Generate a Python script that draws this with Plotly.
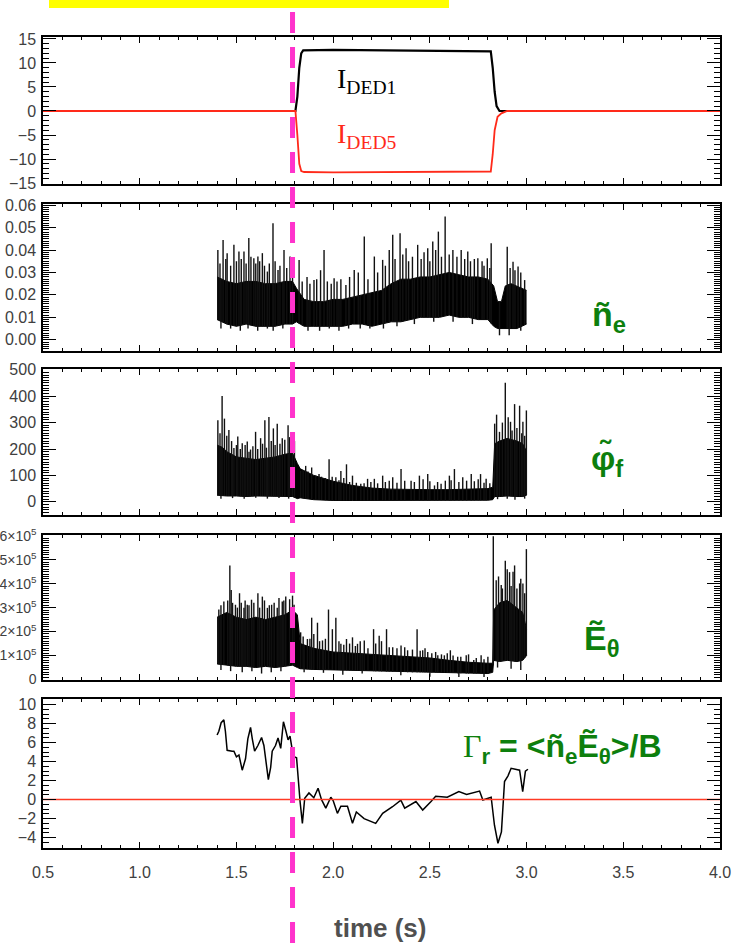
import numpy as np
import plotly.graph_objects as go

# ---------------- data ----------------
X_RANGE = [0.5, 4.0]
X_TICKS = [0.5, 1.0, 1.5, 2.0, 2.5, 3.0, 3.5, 4.0]
DED_ON_TIME = 1.79

# Panel 1: DED coil currents (kA)
ID1_T = [0.5, 1.805, 1.815, 1.825, 1.835, 1.845, 2.0, 2.3, 2.6, 2.815, 2.825, 2.835, 2.845, 2.86, 4.0]
ID1_V = [0, 0, 3, 9, 12, 12.6, 12.7, 12.6, 12.5, 12.4, 9, 4, 1, 0, 0]
ID5_T = [0.5, 1.805, 1.815, 1.825, 1.835, 1.85, 2.0, 2.3, 2.6, 2.815, 2.825, 2.835, 2.85, 2.87, 2.9, 4.0]
ID5_V = [0, 0, -5, -11, -12.5, -12.7, -12.8, -12.7, -12.7, -12.6, -9, -4, -1.2, -0.5, 0, 0]

# Panel 2: density fluctuation  (band of dense signal + spikes + dips)
NE_T = [1.40, 1.45, 1.50, 1.55, 1.60, 1.65, 1.70, 1.75, 1.79, 1.81, 1.85, 1.90, 1.95, 2.00, 2.05, 2.10,
        2.15, 2.20, 2.25, 2.30, 2.35, 2.40, 2.45, 2.50, 2.55, 2.60, 2.65, 2.70, 2.75, 2.80, 2.83, 2.85,
        2.87, 2.89, 2.92, 2.95, 3.00]
NE_LO = [0.009, 0.007, 0.006, 0.007, 0.006, 0.006, 0.006, 0.007, 0.007, 0.008, 0.006, 0.006, 0.006, 0.006,
         0.006, 0.007, 0.007, 0.006, 0.007, 0.008, 0.008, 0.009, 0.010, 0.010, 0.010, 0.011, 0.010, 0.010,
         0.009, 0.009, 0.006, 0.005, 0.005, 0.005, 0.005, 0.005, 0.007]
NE_HI = [0.028, 0.026, 0.025, 0.026, 0.026, 0.025, 0.025, 0.026, 0.026, 0.023, 0.018, 0.017, 0.017, 0.018,
         0.018, 0.019, 0.020, 0.021, 0.022, 0.025, 0.027, 0.027, 0.028, 0.028, 0.029, 0.030, 0.029, 0.028,
         0.028, 0.027, 0.024, 0.017, 0.017, 0.024, 0.025, 0.024, 0.022]
NE_SPK_T = [1.404, 1.431, 1.452, 1.487, 1.513, 1.539, 1.564, 1.590, 1.611, 1.634, 1.660, 1.689, 1.715, 1.746,
            1.777, 1.824, 1.901, 1.953, 2.005, 2.066, 2.109, 2.161, 2.213, 2.256, 2.308, 2.346, 2.377, 2.437,
            2.489, 2.515, 2.544, 2.579, 2.619, 2.662, 2.696, 2.748, 2.797, 2.817, 2.900, 2.930, 2.956, 2.990,
            1.415, 1.445, 1.470, 1.500, 1.525, 1.550, 1.575, 1.600, 1.620, 1.645, 1.670, 1.700, 1.725, 1.760,
            1.790, 1.840, 1.865, 1.880, 1.915, 1.935, 1.970, 1.990, 2.020, 2.040, 2.085, 2.130, 2.180, 2.230,
            2.270, 2.290, 2.320, 2.360, 2.390, 2.410, 2.455, 2.470, 2.500, 2.530, 2.560, 2.600, 2.640, 2.680,
            2.710, 2.730, 2.770, 2.780, 2.810, 2.915, 2.940, 2.970]
NE_SPK_V = [0.0400, 0.0445, 0.0386, 0.0423, 0.0393, 0.0393, 0.0453, 0.0363, 0.0371, 0.0386, 0.0304, 0.0519,
            0.0311, 0.0400, 0.0371, 0.0356, 0.0266, 0.0400, 0.0274, 0.0244, 0.0311, 0.0460, 0.0371, 0.0356,
            0.0468, 0.0475, 0.0408, 0.0423, 0.0408, 0.0438, 0.0482, 0.0549, 0.0400, 0.0400, 0.0393, 0.0363,
            0.0363, 0.0430, 0.0415, 0.0348, 0.0326, 0.0266,
            0.034, 0.036, 0.033, 0.035, 0.036, 0.034, 0.037, 0.034, 0.035, 0.033, 0.034, 0.035, 0.033, 0.032,
            0.033, 0.026, 0.028, 0.025, 0.027, 0.031, 0.026, 0.025, 0.026, 0.027, 0.028, 0.030, 0.027, 0.030,
            0.033, 0.040, 0.036, 0.038, 0.035, 0.037, 0.036, 0.039, 0.035, 0.040, 0.037, 0.038, 0.037, 0.036,
            0.035, 0.036, 0.035, 0.033, 0.032, 0.032, 0.031, 0.030]
NE_DIP_T = [1.42, 1.47, 1.52, 1.56, 1.61, 1.66, 1.69, 1.74, 1.87, 1.93, 1.98, 2.03, 2.08, 2.14, 2.19, 2.26,
            2.33, 2.42, 2.52, 2.62, 2.72, 2.86, 2.91, 2.97]
NE_DIP_V = [0.005, 0.005, 0.004, 0.005, 0.004, 0.005, 0.004, 0.005, 0.004, 0.004, 0.005, 0.004, 0.005,
            0.005, 0.005, 0.005, 0.006, 0.007, 0.008, 0.008, 0.007, 0.002, 0.002, 0.004]

# Panel 3: floating potential fluctuation
PH_T = [1.40, 1.43, 1.45, 1.50, 1.55, 1.60, 1.65, 1.70, 1.75, 1.79, 1.815, 1.83, 1.90, 2.00, 2.10, 2.20,
        2.30, 2.40, 2.50, 2.60, 2.70, 2.80, 2.825, 2.835, 2.86, 2.90, 2.95, 2.98, 3.00]
PH_LO = [25, 22, 22, 22, 20, 22, 22, 20, 22, 20, 12, 15, 8, 5, 5, 5, 5, 5, 5, 5, 5, 6, 8, 20, 20, 22, 20, 20, 25]
PH_HI = [215, 205, 190, 170, 165, 160, 165, 170, 180, 185, 145, 125, 100, 78, 62, 52, 48, 46, 46, 46, 48,
         50, 55, 220, 230, 240, 230, 220, 190]
PH_SPK_T = [1.404, 1.426, 1.438, 1.461, 1.487, 1.507, 1.530, 1.556, 1.573, 1.599, 1.625, 1.647, 1.668, 1.691,
            1.711, 1.737, 1.767, 1.789, 1.832, 1.858, 1.889, 1.927, 1.979, 2.014, 2.040, 2.069, 2.100, 2.143,
            2.178, 2.213, 2.256, 2.308, 2.351, 2.403, 2.446, 2.489, 2.524, 2.558, 2.601, 2.627, 2.670, 2.714,
            2.762, 2.791, 2.835, 2.860, 2.890, 2.917, 2.938, 2.964, 2.981, 2.999,
            1.415, 1.450, 1.475, 1.500, 1.520, 1.545, 1.565, 1.585, 1.610, 1.635, 1.655, 1.680, 1.700, 1.725,
            1.750, 1.775, 1.800, 1.845, 1.870, 1.910, 1.940, 1.960, 1.995, 2.030, 2.055, 2.085, 2.120, 2.160,
            2.195, 2.230, 2.270, 2.290, 2.330, 2.370, 2.420, 2.465, 2.500, 2.540, 2.580, 2.610, 2.650, 2.690,
            2.730, 2.750, 2.780, 2.810, 2.845, 2.875, 2.905, 2.925, 2.950, 2.975, 2.990]
PH_SPK_V = [309, 401, 315, 272, 204, 247, 222, 228, 198, 265, 241, 309, 321, 278, 296, 241, 290, 259, 117,
            136, 130, 105, 161, 93, 117, 142, 99, 68, 87, 87, 99, 93, 124, 80, 99, 105, 62, 68, 99, 124, 93,
            105, 105, 87, 296, 265, 451, 303, 370, 364, 303, 346,
            260, 250, 230, 215, 200, 215, 190, 210, 200, 220, 205, 230, 215, 220, 235, 245, 230, 120, 115,
            100, 95, 90, 95, 82, 90, 75, 72, 70, 75, 70, 75, 80, 72, 80, 75, 85, 78, 75, 80, 82, 75, 80, 78,
            85, 72, 70, 330, 300, 320, 270, 280, 260, 250]
PH_DIP_T = [1.42, 1.48, 1.54, 1.60, 1.66, 1.72, 1.77, 2.85, 2.90, 2.94, 2.99]
PH_DIP_V = [12, 14, 12, 15, 12, 14, 12, 10, 12, 8, 12]

# Panel 4: poloidal electric field fluctuation (units of 1e5)
E_SCALE = 1e5
EF_T = [1.40, 1.45, 1.50, 1.55, 1.60, 1.65, 1.70, 1.75, 1.79, 1.815, 1.83, 1.90, 2.00, 2.10, 2.20, 2.30,
        2.40, 2.50, 2.60, 2.70, 2.80, 2.825, 2.83, 2.86, 2.90, 2.95, 2.98, 3.00]
EF_LO = [0.65, 0.6, 0.55, 0.55, 0.5, 0.55, 0.5, 0.55, 0.6, 0.5, 0.45, 0.42, 0.4, 0.38, 0.35, 0.33, 0.3, 0.3,
         0.28, 0.25, 0.25, 0.3, 0.8, 0.75, 0.8, 0.75, 0.8, 1.0]
EF_HI = [2.6, 2.8, 2.6, 2.5, 2.6, 2.5, 2.6, 2.7, 2.9, 2.7, 1.5, 1.3, 1.15, 1.1, 1.05, 1.0, 0.95, 0.9, 0.8,
         0.72, 0.68, 0.68, 2.9, 3.2, 3.3, 3.0, 2.8, 2.1]
EF_SPK_T = [1.409, 1.435, 1.466, 1.473, 1.495, 1.516, 1.539, 1.556, 1.578, 1.611, 1.634, 1.660, 1.682, 1.711,
            1.737, 1.755, 1.798, 1.832, 1.867, 1.889, 1.919, 1.945, 1.976, 1.996, 2.014, 2.040, 2.069, 2.100,
            2.126, 2.161, 2.209, 2.238, 2.276, 2.308, 2.351, 2.385, 2.434, 2.463, 2.489, 2.541, 2.575, 2.606,
            2.644, 2.688, 2.727, 2.765, 2.828, 2.843, 2.869, 2.890, 2.912, 2.938, 2.964, 2.981, 2.999,
            1.420, 1.455, 1.480, 1.505, 1.525, 1.545, 1.565, 1.590, 1.620, 1.645, 1.670, 1.695, 1.720, 1.745,
            1.775, 1.790, 1.845, 1.880, 1.900, 1.930, 1.960, 2.030, 2.055, 2.085, 2.115, 2.140, 2.180, 2.220,
            2.250, 2.290, 2.330, 2.370, 2.410, 2.450, 2.475, 2.510, 2.530, 2.560, 2.590, 2.620, 2.660, 2.700,
            2.740, 2.780, 2.800, 2.855, 2.875, 2.900, 2.920, 2.930, 2.950, 2.970, 2.990]
EF_SPK_V = [2.92, 3.26, 4.76, 3.73, 3.12, 3.60, 2.99, 3.12, 3.33, 3.60, 3.46, 2.99, 3.12, 2.99, 3.26, 3.46,
            3.12, 1.97, 1.69, 2.58, 2.37, 1.63, 2.92, 2.10, 2.58, 1.49, 1.69, 1.76, 1.49, 1.63, 2.10, 1.83,
            2.10, 1.35, 1.42, 1.22, 2.10, 1.22, 1.15, 1.01, 1.01, 1.22, 0.95, 1.01, 0.81, 1.01, 5.98, 4.14,
            3.94, 4.96, 4.48, 4.76, 4.01, 4.01, 5.44,
            3.1, 3.3, 3.2, 3.0, 3.2, 3.3, 3.1, 3.2, 3.0, 3.3, 3.1, 3.2, 3.4, 3.3, 3.35, 3.5, 1.8, 1.7, 1.9,
            1.6, 1.7, 1.6, 1.45, 1.5, 1.4, 1.6, 1.3, 1.5, 1.6, 1.35, 1.3, 1.35, 1.25, 1.2, 1.3, 1.1, 1.15,
            1.05, 1.1, 1.0, 0.95, 1.05, 0.9, 0.85, 0.95, 4.3, 3.8, 4.6, 3.9, 4.5, 3.8, 4.2, 3.6]
EF_DIP_T = [1.42, 1.47, 1.53, 1.58, 1.63, 1.68, 1.73, 1.85, 1.95, 2.05, 2.15, 2.35, 2.50, 2.65, 2.78,
            2.85, 2.92, 2.97]
EF_DIP_V = [0.4, 0.35, 0.3, 0.35, 0.25, 0.3, 0.35, 0.3, 0.28, 0.2, 0.25, 0.18, 0.12, 0.1, 0.1, 0.5, 0.45, 0.4]

# Panel 5: radial particle flux
GR_T = [1.400, 1.409, 1.421, 1.435, 1.443, 1.452, 1.478, 1.487, 1.500, 1.513, 1.530, 1.547, 1.559, 1.573,
        1.582, 1.594, 1.611, 1.630, 1.642, 1.654, 1.665, 1.677, 1.685, 1.702, 1.715, 1.729, 1.743, 1.756,
        1.767, 1.777, 1.794, 1.811, 1.820, 1.829, 1.841, 1.853, 1.875, 1.900, 1.922, 1.940, 1.962, 1.988,
        2.000, 2.022, 2.040, 2.074, 2.100, 2.120, 2.160, 2.220, 2.256, 2.307, 2.350, 2.370, 2.428, 2.463,
        2.506, 2.530, 2.590, 2.650, 2.690, 2.757, 2.774, 2.817, 2.834, 2.852, 2.870, 2.886, 2.904, 2.920,
        2.964, 2.980, 2.994, 3.007]
GR_V = [6.8, 7.2, 8.1, 8.4, 7.2, 5.2, 5.1, 5.1, 4.5, 4.7, 3.1, 4.3, 6.4, 7.6,
        6.4, 5.1, 5.7, 6.55, 5.7, 3.6, 2.1, 3.4, 5.1, 5.7, 6.5, 5.4, 8.2, 7.2,
        6.3, 6.7, 4.55, 4.4, 1.7, -0.2, -2.5, 0.15, 0.7, 0.2, 1.2, 0.0, -0.9, 0.25,
        -0.1, -1.45, -0.7, -0.7, -2.5, -1.3, -2.0, -2.5, -1.45, -0.75, -0.05, -0.9, -0.2, -1.1,
        -0.2, 0.35, 0.25, 0.85, 0.55, 0.9, -0.05, 0.25, -2.7, -4.6, -3.4, 1.9, 2.5, 3.3,
        3.1, 0.85, 3.0, 3.2]
ZERO_T = [0.5, 4.0]
ZERO_V = [0, 0]

# ---------------- layout geometry ----------------
W, H = 734, 943
ML, MR, MT, MB = 43, 14, 37, 95
PW, PH = W - ML - MR, H - MT - MB

def py(pix):  # page pixel row -> paper y
    return (H - MB - pix) / PH

def px(pix):  # page pixel column -> paper x
    return (pix - ML) / PW

DOMAINS = [[py(184), 1.0], [py(351), py(204)], [py(515), py(369)], [py(680), py(535)], [0.0, py(699)]]

fig = go.Figure()

def ax_ids(idx):
    return ("x" if idx == 1 else f"x{idx}"), ("y" if idx == 1 else f"y{idx}")

def add_line(t, v, idx, color, width, shape="linear"):
    xa, ya = ax_ids(idx)
    fig.add_trace(go.Scatter(x=t, y=v, mode="lines", line=dict(color=color, width=width, shape=shape),
                             xaxis=xa, yaxis=ya, showlegend=False, hoverinfo="skip"))

def add_noisy(t, lo, hi, st, sv, dt, dv, idx, scale=1.0):
    xa, ya = ax_ids(idx)
    lo_s = [v * scale for v in lo]
    hi_s = [v * scale for v in hi]
    fig.add_trace(go.Scatter(x=t, y=lo_s, mode="lines", line=dict(color="black", width=1),
                             xaxis=xa, yaxis=ya, showlegend=False, hoverinfo="skip"))
    fig.add_trace(go.Scatter(x=t, y=hi_s, mode="lines", line=dict(color="black", width=1),
                             fill="tonexty", fillcolor="black",
                             xaxis=xa, yaxis=ya, showlegend=False, hoverinfo="skip"))
    xs, ys = [], []
    for tt, b, v in zip(st, np.interp(st, t, lo_s), sv):
        xs += [tt, tt, None]
        ys += [b, v * scale, None]
    for tt, b, v in zip(dt, np.interp(dt, t, hi_s), dv):
        xs += [tt, tt, None]
        ys += [b, v * scale, None]
    fig.add_trace(go.Scatter(x=xs, y=ys, mode="lines", line=dict(color="#111111", width=1.4),
                             xaxis=xa, yaxis=ya, showlegend=False, hoverinfo="skip", connectgaps=False))

add_line(ID1_T, ID1_V, 1, "black", 2.2)
add_line(ID5_T, ID5_V, 1, "#ff2a1a", 1.8)
add_noisy(NE_T, NE_LO, NE_HI, NE_SPK_T, NE_SPK_V, NE_DIP_T, NE_DIP_V, 2)
add_noisy(PH_T, PH_LO, PH_HI, PH_SPK_T, PH_SPK_V, PH_DIP_T, PH_DIP_V, 3)
add_noisy(EF_T, EF_LO, EF_HI, EF_SPK_T, EF_SPK_V, EF_DIP_T, EF_DIP_V, 4, E_SCALE)
add_line(GR_T, GR_V, 5, "black", 1.5)
add_line(ZERO_T, ZERO_V, 5, "#ff3a24", 1.5)

TICKFONT = dict(family="Liberation Sans", size=16, color="#404040")

def grid_vals(lo, hi, step):
    n = int(round((hi - lo) / step))
    return [round(lo + k * step, 10) for k in range(n + 1)]

Y_CFG = [
    dict(range=[-15.2, 15.4], tickvals=[-15, -10, -5, 0, 5, 10, 15],
         ticktext=["\u221215", "\u221210", "\u22125", "0", "5", "10", "15"], minor=grid_vals(-15, 15, 1)),
    dict(range=[-0.005, 0.0605], tickvals=[0, 0.01, 0.02, 0.03, 0.04, 0.05, 0.06],
         ticktext=["0.00", "0.01", "0.02", "0.03", "0.04", "0.05", "0.06"], minor=grid_vals(-0.004, 0.06, 0.001)),
    dict(range=[-50, 503], tickvals=[0, 100, 200, 300, 400, 500],
         ticktext=["0", "100", "200", "300", "400", "500"], minor=grid_vals(-40, 500, 10)),
    dict(range=[-0.02 * E_SCALE, 6.03 * E_SCALE], tickvals=[k * E_SCALE for k in range(7)],
         ticktext=["0"] + [f"{k}\u00d710<sup>5</sup>" for k in range(1, 7)],
         minor=[v * E_SCALE for v in grid_vals(0, 6, 0.1)], fontsize=14),
    dict(range=[-5.1, 10.6], tickvals=[-4, -2, 0, 2, 4, 6, 8, 10],
         ticktext=["\u22124", "\u22122", "0", "2", "4", "6", "8", "10"], minor=grid_vals(-5, 10.5, 0.5)),
]

layout = dict(width=W, height=H, margin=dict(l=ML, r=MR, t=MT, b=MB, autoexpand=False),
              paper_bgcolor="white", plot_bgcolor="white", showlegend=False)

for i in range(1, 6):
    xk = "xaxis" if i == 1 else f"xaxis{i}"
    yk = "yaxis" if i == 1 else f"yaxis{i}"
    xid, yid = ax_ids(i)
    layout[xk] = dict(domain=[0, 1], anchor=yid, range=X_RANGE, tickmode="array", tickvals=X_TICKS,
                      ticktext=[f"{v:.1f}" for v in X_TICKS], showticklabels=(i == 5),
                      ticks="inside", ticklen=6, tickwidth=1.2, tickcolor="black",
                      minor=dict(tickmode="array", tickvals=grid_vals(0.5, 4.0, 0.1), ticks="inside",
                                 ticklen=3, tickcolor="black", tickwidth=1, showgrid=False),
                      showline=True, linecolor="black", linewidth=1.5, mirror="ticks", automargin=False,
                      showgrid=False, zeroline=False, tickfont=TICKFONT, ticklabelstandoff=9)
    c = Y_CFG[i - 1]
    tf = dict(TICKFONT)
    tf["size"] = c.get("fontsize", 16)
    layout[yk] = dict(domain=DOMAINS[i - 1], anchor=xid, range=c["range"], tickmode="array",
                      tickvals=c["tickvals"], ticktext=c["ticktext"],
                      ticks="inside", ticklen=13, tickwidth=1.3, tickcolor="black",
                      minor=dict(tickmode="array", tickvals=c["minor"], ticks="inside", ticklen=6,
                                 tickcolor="black", tickwidth=1, showgrid=False),
                      showline=True, linecolor="black", linewidth=1.5, mirror="ticks", automargin=False,
                      showgrid=False, zeroline=False, tickfont=tf, ticklabelstandoff=2)

fig.update_layout(**layout)

GREEN = "#0d7f0d"
ded_x = (DED_ON_TIME - X_RANGE[0]) / (X_RANGE[1] - X_RANGE[0])
fig.update_layout(shapes=[
    dict(type="rect", xref="paper", yref="paper", x0=px(49), x1=px(449), y0=py(8), y1=py(-5),
         fillcolor="#ffff00", line=dict(width=0), layer="above"),
    dict(type="line", xref="paper", yref="paper", x0=ded_x, x1=ded_x, y0=py(943), y1=py(9),
         line=dict(color="#ff33cc", width=5, dash="21px,14px"), layer="above"),
])

fig.update_layout(annotations=[
    dict(text="I<sub>DED1</sub>", xref="x", yref="y", x=2.01, y=6.3, xanchor="left", yanchor="middle",
         showarrow=False, font=dict(family="Liberation Serif", size=28, color="black")),
    dict(text="I<sub>DED5</sub>", xref="x", yref="y", x=2.01, y=-5.0, xanchor="left", yanchor="middle",
         showarrow=False, font=dict(family="Liberation Serif", size=28, color="#ff2a1a")),
    dict(text="<b>ñ<sub>e</sub></b>", xref="paper", yref="paper", x=px(609), y=py(316),
         xanchor="center", yanchor="middle", showarrow=False,
         font=dict(family="Liberation Sans", size=34, color=GREEN)),
    dict(text="<b>\u03c6\u0303<sub>f</sub></b>", xref="paper", yref="paper", x=px(607), y=py(460),
         xanchor="center", yanchor="middle", showarrow=False,
         font=dict(family="Liberation Sans", size=34, color=GREEN)),
    dict(text="<b>\u1ebc<sub>\u03b8</sub></b>", xref="paper", yref="paper", x=px(602), y=py(640),
         xanchor="center", yanchor="middle", showarrow=False,
         font=dict(family="Liberation Sans", size=34, color=GREEN)),
    dict(text="<span style='font-family:Liberation Serif;font-weight:normal'>\u0393</span><b><sub>r</sub> = &lt;ñ<sub>e</sub>\u1ebc<sub>\u03b8</sub>&gt;/B</b>",
         xref="paper", yref="paper", x=px(461), y=py(748), xanchor="left", yanchor="middle",
         showarrow=False, font=dict(family="Liberation Sans", size=32, color=GREEN)),
    dict(text="<b>time (s)</b>", xref="paper", yref="paper", x=px(380), y=py(928),
         xanchor="center", yanchor="middle", showarrow=False,
         font=dict(family="Liberation Sans", size=26, color="#505050")),
])

fig.write_html("out.html")
